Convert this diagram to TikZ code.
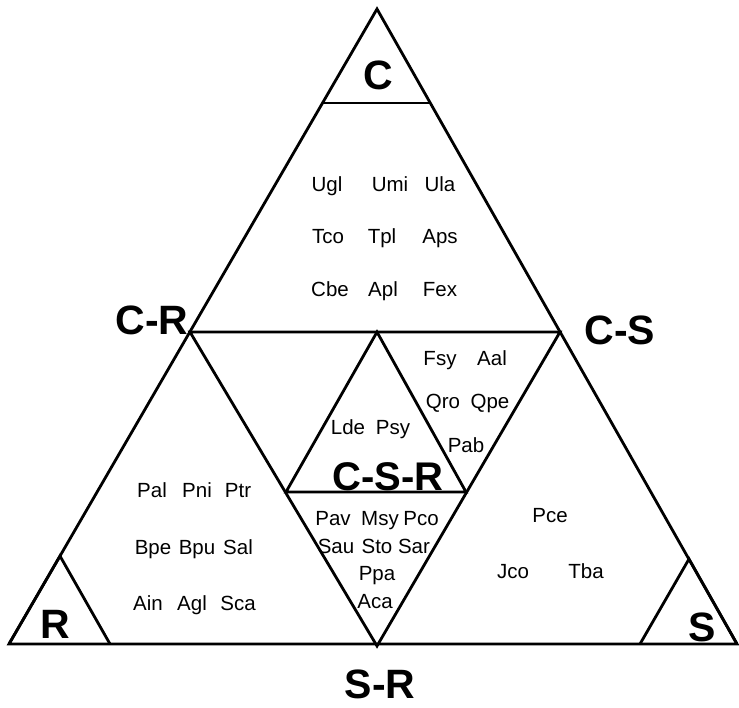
\documentclass[tikz,border=0pt]{standalone}
\usepackage{fontspec}
\setmainfont{Liberation Sans}
\begin{document}
\begin{tikzpicture}[x=1pt,y=-1pt,line width=2.8pt,line join=miter,
  big/.style={font=\fontsize{41}{41}\selectfont\bfseries,anchor=base,inner sep=0pt},
  mid/.style={font=\fontsize{40}{40}\selectfont\bfseries,anchor=base,inner sep=0pt},
  sp/.style={font=\fontsize{20.5}{20.5}\selectfont,anchor=base,inner sep=0pt}]
\useasboundingbox (0,0) rectangle (739,708);
% main points
\coordinate (A) at (377,9);
\coordinate (L) at (9,644);
\coordinate (Rt) at (737,644);
\coordinate (CR) at (190,332);
\coordinate (CS) at (560,332);
\coordinate (SR) at (377,646);
\coordinate (M) at (377,332);
\coordinate (I1) at (286,492);
\coordinate (I2) at (466,492);
\coordinate (Cl) at (323,103);
\coordinate (Cr) at (430,103);
\coordinate (Rap) at (60,556);
\coordinate (Rb) at (110,644);
\coordinate (Sap) at (689,559);
\coordinate (Sb) at (640,644);
% lines
\draw (A) -- (L) -- (Rt) -- cycle;
\draw (CR) -- (CS) -- (SR) -- cycle;
\draw (I1) -- (M) -- (I2) -- cycle;
\draw (Cl) -- (Cr);
\draw (L) -- (Rap) -- (Rb);
\draw (Sb) -- (Sap) -- (Rt);
% big labels
\node[big] (lC) at (378,90) {C};
\node[big] (lCR) at (152,335) {C-R};
\node[big] (lCS) at (620,345) {C-S};
\node[big] (lR) at (55,638) {R};
\node[big] (lS) at (702,641) {S};
\node[big] (lSR) at (380,698) {S-R};
\node[mid] (lCSR) at (388,490) {C-S-R};
% top
\node[sp] (ugl) at (327,192) {Ugl};
\node[sp] (umi) at (390,192) {Umi};
\node[sp] (ula) at (440,192) {Ula};
\node[sp] (tco) at (328,244) {Tco};
\node[sp] (tpl) at (382,244) {Tpl};
\node[sp] (aps) at (440,244) {Aps};
\node[sp] (cbe) at (330,297) {Cbe};
\node[sp] (apl) at (383,297) {Apl};
\node[sp] (fex) at (440,297) {Fex};
% left
\node[sp] (pal) at (152,497) {Pal};
\node[sp] (pni) at (197,497) {Pni};
\node[sp] (ptr) at (238,497) {Ptr};
\node[sp] (bpe) at (153,554) {Bpe};
\node[sp] (bpu) at (197,554) {Bpu};
\node[sp] (sal) at (238,554) {Sal};
\node[sp] (ain) at (148,610) {Ain};
\node[sp] (agl) at (192,610) {Agl};
\node[sp] (sca) at (238,610) {Sca};
% right
\node[sp] (pce) at (550,522) {Pce};
\node[sp] (jco) at (513,578) {Jco};
\node[sp] (tba) at (586,578) {Tba};
% upper right inverted
\node[sp] (fsy) at (440,366) {Fsy};
\node[sp] (aal) at (492,366) {Aal};
\node[sp] (qro) at (443,409) {Qro};
\node[sp] (qpe) at (490,409) {Qpe};
\node[sp] (pab) at (466,453) {Pab};
% inner
\node[sp] (lde) at (348,435) {Lde};
\node[sp] (psy) at (393,435) {Psy};
% lower inverted
\node[sp] (pav) at (333,525) {Pav};
\node[sp] (msy) at (380,525) {Msy};
\node[sp] (pco) at (421,525) {Pco};
\node[sp] (sau) at (336,553) {Sau};
\node[sp] (sto) at (377,553) {Sto};
\node[sp] (sar) at (414,553) {Sar};
\node[sp] (ppa) at (377,580) {Ppa};
\node[sp] (aca) at (375,608) {Aca};
\end{tikzpicture}
\end{document}
